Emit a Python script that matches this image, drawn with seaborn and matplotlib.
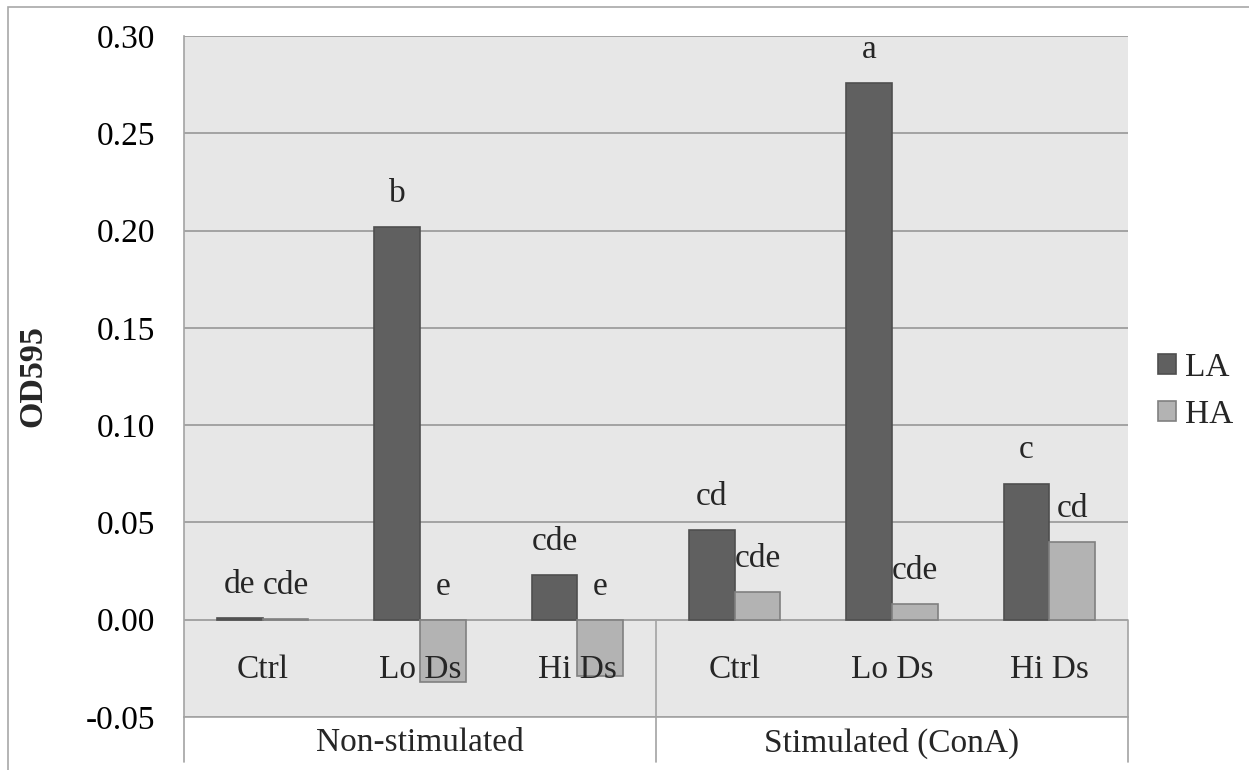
import matplotlib
matplotlib.use("Agg")
import matplotlib.pyplot as plt
import matplotlib.transforms as mtransforms
from matplotlib.lines import Line2D
from matplotlib.patches import Patch, Rectangle
import pandas as pd
import seaborn as sns

# ---- data -------------------------------------------------------------
groups = ["Non-stimulated", "Stimulated (ConA)"]
treatments = ["Ctrl", "Lo Ds", "Hi Ds"]
series = ["LA", "HA"]
la_od = [0.0008, 0.202, 0.023, 0.046, 0.276, 0.070]
ha_od = [0.0004, -0.032, -0.029, 0.014, 0.008, 0.040]
la_letters = ["de", "b", "cde", "cd", "a", "c"]
ha_letters = ["cde", "e", "e", "cde", "cde", "cd"]
y_ticks = [-0.05, 0.00, 0.05, 0.10, 0.15, 0.20, 0.25, 0.30]

# ---- style ------------------------------------------------------------
sns.set_theme(style="white")
plt.rcParams["font.family"] = ["Liberation Serif", "DejaVu Serif"]
plt.rcParams["axes.unicode_minus"] = False

FS = 24
GRID = "#a3a3a3"
fill = {"LA": "#606060", "HA": "#b3b3b3"}
edge = {"LA": "#4f4f4f", "HA": "#808080"}

keys = [f"{g}|{t}" for g in groups for t in treatments]
df = pd.DataFrame({
    "cond": keys * 2,
    "series": ["LA"] * len(keys) + ["HA"] * len(keys),
    "od": la_od + ha_od,
})

W, H, DPI = 1249, 770, 100
fig = plt.figure(figsize=(W / DPI, H / DPI), dpi=DPI)
ax = fig.add_axes([184 / W, 1 - 717 / H, (1128 - 184) / W, (717 - 36) / H])
ax.set_facecolor("#e7e7e7")

sns.barplot(data=df, x="cond", y="od", hue="series", order=keys,
            hue_order=series, palette=fill, width=0.58, saturation=1,
            errorbar=None, legend=False, linewidth=1.2, ax=ax)
for cont, s in zip(ax.containers, series):
    for bar in cont:
        bar.set_edgecolor(edge[s])
        bar.set_linewidth(1.2)

ax.set_xlim(-0.5, len(keys) - 0.5)
ax.set_ylim(y_ticks[0], y_ticks[-1])
ax.set_yticks(y_ticks)
ax.set_yticklabels([f"{t:.2f}" for t in y_ticks], fontsize=FS)
ax.set_xticks([])
ax.set_xlabel("")
ax.set_ylabel("OD595", fontsize=FS + 0.5, fontweight="bold")
ax.yaxis.set_label_coords((48 - 184) / (1128 - 184), 0.5)
ax.tick_params(axis="y", direction="out", length=10 * 0.72, width=1.2,
               color=GRID, pad=13.5, labelcolor="black")
ax.set_axisbelow(True)
ax.yaxis.grid(True, color=GRID, linewidth=1.4)
for side in ["top", "right"]:
    ax.spines[side].set_visible(False)
for side in ["left", "bottom"]:
    ax.spines[side].set_color(GRID)
    ax.spines[side].set_linewidth(1.2)

# significance letters above each bar
for cont, letters in zip(ax.containers, [la_letters, ha_letters]):
    for bar, txt in zip(cont, letters):
        x = bar.get_x() + bar.get_width() / 2
        top = max(bar.get_y() + bar.get_height(), bar.get_y(), 0)
        ax.annotate(txt, (x, top), xytext=(0, 24), textcoords="offset points",
                    ha="center", va="center", fontsize=FS)

# category labels between zero and the lower limit
for i, k in enumerate(keys):
    ax.text(i, -0.0255, k.split("|")[1], ha="center", va="center", fontsize=FS)

# group table underneath
blend = mtransforms.blended_transform_factory(ax.transData, ax.transAxes)
y_zero = (0 - y_ticks[0]) / (y_ticks[-1] - y_ticks[0])
y_bot = (717 - 762) / (717 - 36)
for x, y0 in [(-0.5, 0.0), (2.5, y_zero), (5.5, y_zero)]:
    ax.add_line(Line2D([x, x], [y_bot, y0], transform=blend, color=GRID,
                       linewidth=1.2, clip_on=False))
for gi, g in enumerate(groups):
    ax.text(gi * 3 + 1, (717 - 743) / (717 - 36), g, transform=blend,
            ha="center", va="center", fontsize=FS)

# legend
handles = [Patch(facecolor=fill[s], edgecolor=edge[s], linewidth=1.2) for s in series]
fig.legend(handles, series, loc="center left", bbox_to_anchor=(1158 / W, 1 - 391 / H),
           frameon=False, fontsize=FS, handlelength=0.55, handleheight=0.55,
           handletextpad=0.25, labelspacing=0.5, borderpad=0, borderaxespad=0)

# chart-area frame
fig.add_artist(Rectangle((8 / W, -0.1), 1.2, 1 - 7 / H + 0.1, transform=fig.transFigure,
                         fill=False, edgecolor="#a8a8a8", linewidth=1.2))

fig.savefig("out.png", dpi=DPI)
